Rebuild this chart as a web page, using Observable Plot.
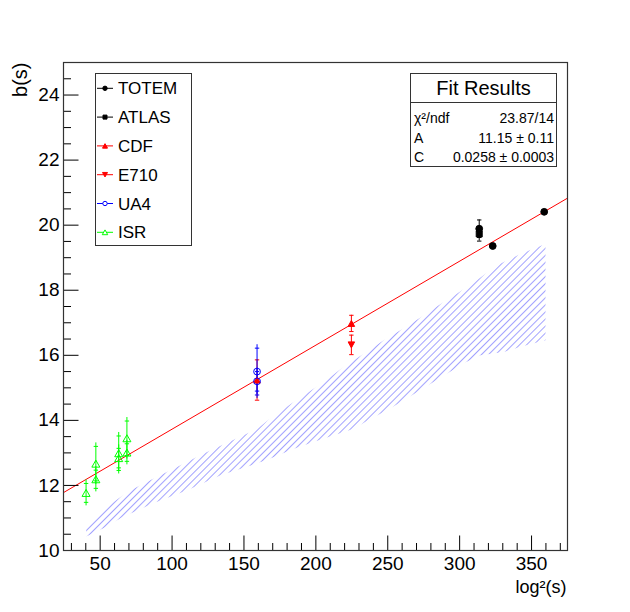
<!DOCTYPE html>
<html><head><meta charset="utf-8">
<script src="https://cdn.jsdelivr.net/npm/d3@7"></script>
<script src="https://cdn.jsdelivr.net/npm/@observablehq/plot@0.6"></script>
<style>html,body{margin:0;padding:0;background:#fff;overflow:hidden}</style>
</head><body><div id="chart"></div>
<script>
// ---- data ----
const totemX = [313.6, 323.0, 358.8];
const totemY = [19.89, 19.36, 20.41];
const totemErr = [0.27, 0, 0];
const atlasX = [313.6];
const atlasY = [19.73];
const atlasErr = [0.22];
const cdfX = [159.1, 224.7];
const cdfY = [15.24, 16.98];
const cdfErr = [0.62, 0.25];
const e710X = [224.7];
const e710Y = [16.32];
const e710Err = [0.30];
const ua4X = [159.1, 159.1];
const ua4Y = [15.50, 15.20];
const ua4Err = [0.72, 0.30];
const isrX = [40.2, 47.0, 47.0, 62.9, 62.9, 68.6, 68.6];
const isrY = [11.77, 12.67, 12.19, 12.99, 12.84, 13.45, 13.01];
const isrErr = [0.29, 0.53, 0.28, 0.53, 0.30, 0.53, 0.27];
const fitX = [24.5, 375];
const fitY = [11.78, 20.83];
const bandUpperX = [40.3, 54.2, 69.9, 87.3, 105.9, 122.1, 140.6, 159.2, 173.1, 189.3, 205.5, 220.6, 234.5, 247.2, 260.0, 272.8, 284.4, 298.3, 309.8, 326.1, 342.3, 359.7];
const bandUpperY = [10.77, 11.33, 11.82, 12.21, 12.62, 12.98, 13.36, 13.74, 14.22, 14.70, 15.18, 15.69, 16.08, 16.46, 16.80, 17.16, 17.51, 17.90, 18.24, 18.77, 19.11, 19.42];
const bandLowerX = [40.3, 52.5, 65.3, 87.3, 110.5, 133.7, 149.9, 166.2, 184.7, 205.5, 226.4, 238.0, 249.6, 270.5, 291.3, 304.1, 314.5, 330.7, 342.3, 359.7];
const bandLowerY = [10.43, 10.69, 11.02, 11.46, 11.85, 12.31, 12.54, 12.79, 13.13, 13.44, 13.74, 14.05, 14.31, 14.87, 15.44, 15.79, 16.00, 16.10, 16.26, 16.46];
const xMajor = [50, 100, 150, 200, 250, 300, 350];
const xMinor = [30, 40, 60, 70, 80, 90, 110, 120, 130, 140, 160, 170, 180, 190, 210, 220, 230, 240, 260, 270, 280, 290, 310, 320, 330, 340, 360, 370];
const yMajor = [10, 12, 14, 16, 18, 20, 22, 24];
const yMinor = [10.5, 11, 11.5, 12.5, 13, 13.5, 14.5, 15, 15.5, 16.5, 17, 17.5, 18.5, 19, 19.5, 20.5, 21, 21.5, 22.5, 23, 23.5, 24.5];
const legendLabels = ["TOTEM", "ATLAS", "CDF", "E710", "UA4", "ISR"];
const fitTitle = "Fit Results";
const fitNames = ["χ²/ndf", "A", "C"];
const fitValues = ["23.87/14", "11.15 ± 0.11", "0.0258 ± 0.0003"];
const xTitle = "log²(s)";
const yTitle = "b(s)";

// ---- tables ----
const rows = (xs, ys, es) => xs.map((x, i) => ({x, y: ys[i], e: es[i]}));
const totem = rows(totemX, totemY, totemErr);
const atlas = rows(atlasX, atlasY, atlasErr);
const cdf = rows(cdfX, cdfY, cdfErr);
const e710 = rows(e710X, e710Y, e710Err);
const ua4 = rows(ua4X, ua4Y, ua4Err);
const isr = rows(isrX, isrY, isrErr);
const fit = fitX.map((x, i) => ({x, y: fitY[i]}));
const band = bandUpperX.map((x, i) => ({x, y: bandUpperY[i]}))
  .concat(bandLowerX.map((x, i) => ({x, y: bandLowerY[i]})).reverse());

// ---- symbols ----
const vTick = len => ({draw(c) { c.moveTo(0, 0); c.lineTo(0, -len); }});
const hTick = len => ({draw(c) { c.moveTo(0, 0); c.lineTo(len, 0); }});
const cap = w => ({draw(c) { c.moveTo(-w, 0); c.lineTo(w, 0); }});
const triUp = (w, h) => ({draw(c) { c.moveTo(0, -h / 2); c.lineTo(w / 2, h / 2); c.lineTo(-w / 2, h / 2); c.closePath(); }});
const triDown = (w, h) => ({draw(c) { c.moveTo(0, h / 2); c.lineTo(w / 2, -h / 2); c.lineTo(-w / 2, -h / 2); c.closePath(); }});
const square = s => ({draw(c) { c.rect(-s / 2, -s / 2, s, s); }});
const circ = r => ({draw(c) { c.moveTo(r, 0); c.arc(0, 0, r, 0, 2 * Math.PI); }});

const series = [
  {data: totem, color: "black", sym: circ(3.4), fill: "black", gap: 0},
  {data: atlas, color: "black", sym: square(6), fill: "black", gap: 0},
  {data: cdf, color: "red", sym: triUp(6.5, 6), fill: "red", gap: 0},
  {data: e710, color: "red", sym: triDown(6.5, 6), fill: "red", gap: 0},
  {data: ua4, color: "blue", sym: circ(3.4), fill: "none", gap: 3.4},
  {data: isr, color: "#00ff00", sym: triUp(8, 7), fill: "none", gap: 3.5}
];

const errMarks = series.flatMap(s => {
  const d = s.data.filter(r => r.e > 0);
  return [
    Plot.ruleX(d, {x: "x", y1: "y", y2: r => r.y + r.e, stroke: s.color, strokeWidth: 1, insetBottom: s.gap}),
    Plot.ruleX(d, {x: "x", y1: r => r.y - r.e, y2: "y", stroke: s.color, strokeWidth: 1, insetTop: s.gap}),
    Plot.dot(d, {x: "x", y: r => r.y + r.e, symbol: cap(2.2), stroke: s.color, strokeWidth: 1, fill: "none"}),
    Plot.dot(d, {x: "x", y: r => r.y - r.e, symbol: cap(2.2), stroke: s.color, strokeWidth: 1, fill: "none"})
  ];
});
const markerMarks = series.map(s =>
  Plot.dot(s.data, {x: "x", y: "y", symbol: s.sym, stroke: s.color, fill: s.fill, strokeWidth: 1}));

const font = "'Liberation Sans', Arial, Helvetica, sans-serif";

const chart = Plot.plot({
  width: 630, height: 612,
  marginLeft: 63, marginRight: 63, marginTop: 62, marginBottom: 62,
  style: {fontFamily: font, background: "white", overflow: "visible"},
  x: {domain: [24.5, 375], axis: null},
  y: {domain: [10, 25], axis: null},
  marks: [
    Plot.line(band, {x: "x", y: "y", fill: "url(#hatch)", stroke: "none"}),
    Plot.line(fit, {x: "x", y: "y", stroke: "red", strokeWidth: 1}),
    ...errMarks,
    ...markerMarks,
    Plot.dot(xMajor, {x: d => d, y: 10, symbol: vTick(15), stroke: "black", strokeWidth: 1}),
    Plot.dot(xMinor, {x: d => d, y: 10, symbol: vTick(7.5), stroke: "black", strokeWidth: 1}),
    Plot.dot(yMajor, {x: 24.5, y: d => d, symbol: hTick(15), stroke: "black", strokeWidth: 1}),
    Plot.dot(yMinor, {x: 24.5, y: d => d, symbol: hTick(7.5), stroke: "black", strokeWidth: 1}),
    Plot.text(xMajor, {x: d => d, frameAnchor: "bottom", text: d => String(d), lineAnchor: "top", dy: 6, fontSize: 19, fill: "black"}),
    Plot.text(yMajor, {y: d => d, frameAnchor: "left", text: d => String(d), textAnchor: "end", lineAnchor: "middle", dx: -4, fontSize: 19, fill: "black"}),
    Plot.text([xTitle], {frameAnchor: "bottom-right", text: d => d, textAnchor: "end", lineAnchor: "bottom", dy: 42, dx: -1, fontSize: 18, fill: "black"}),
    Plot.text([yTitle], {frameAnchor: "top-left", text: d => d, rotate: -90, textAnchor: "end", lineAnchor: "bottom", dx: -37, fontSize: 20, fill: "black"}),
    Plot.frame({stroke: "#333", strokeWidth: 1.2})
  ]
});

const svg = d3.select(chart);
svg.insert("defs", ":first-child").html(
  '<pattern id="hatch" patternUnits="userSpaceOnUse" width="5" height="10" patternTransform="rotate(45)">' +
  '<line x1="0.5" y1="0" x2="0.5" y2="10" stroke="#7a7aff" stroke-width="0.7"/></pattern>');

// legend
const lg = svg.append("g").attr("font-family", font).attr("text-anchor", "start");
lg.append("rect").attr("x", 95.5).attr("y", 73.5).attr("width", 96).attr("height", 172)
  .attr("fill", "white").attr("stroke", "#333").attr("stroke-width", 1);
const legSyms = [circ(2.2), square(4), triUp(5, 4.5), triDown(5, 4.5), circ(2.2), triUp(5.5, 4.8)];
legendLabels.forEach((lab, i) => {
  const s = series[i];
  const cy = 88.3 + i * 28.8;
  lg.append("line").attr("x1", 97).attr("x2", 113).attr("y1", cy).attr("y2", cy)
    .attr("stroke", s.color).attr("stroke-width", 1);
  const p = d3.path(); legSyms[i].draw(p);
  lg.append("path").attr("transform", `translate(105,${cy})`).attr("d", p.toString())
    .attr("fill", s.fill === "none" ? "white" : s.fill).attr("stroke", s.color).attr("stroke-width", 1);
  lg.append("text").attr("x", 118).attr("y", cy + 6).attr("text-anchor", "start")
    .attr("font-size", 17).attr("fill", "black").text(lab);
});

// fit results box
const fb = svg.append("g").attr("font-family", font).attr("text-anchor", "start");
fb.append("rect").attr("x", 410.5).attr("y", 73.5).attr("width", 146).attr("height", 93)
  .attr("fill", "white").attr("stroke", "#333").attr("stroke-width", 1);
fb.append("line").attr("x1", 410.5).attr("x2", 556.5).attr("y1", 102.5).attr("y2", 102.5)
  .attr("stroke", "#333").attr("stroke-width", 1);
fb.append("text").attr("x", 483.5).attr("y", 95).attr("text-anchor", "middle")
  .attr("font-size", 20).attr("fill", "black").text(fitTitle);
const rowY = [122.5, 142.5, 161.5];
fitNames.forEach((n, i) => {
  fb.append("text").attr("x", 414).attr("y", rowY[i]).attr("text-anchor", "start")
    .attr("font-size", 14).attr("fill", "black").text(n);
  fb.append("text").attr("x", 554).attr("y", rowY[i]).attr("text-anchor", "end")
    .attr("font-size", 14).attr("fill", "black").text(fitValues[i]);
});

document.getElementById("chart").appendChild(chart);
</script>
</body></html>
